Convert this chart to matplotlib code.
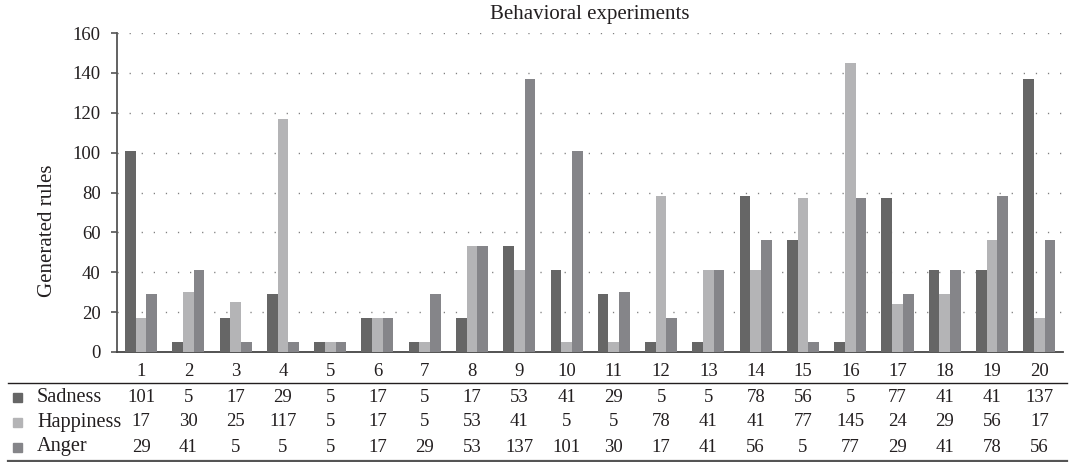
import matplotlib
matplotlib.use("Agg")
import matplotlib.pyplot as plt
import numpy as np
from matplotlib.transforms import blended_transform_factory
from matplotlib.lines import Line2D
from matplotlib.patches import Rectangle

plt.rcParams['font.family'] = ['Liberation Serif', 'DejaVu Serif']

categories = [str(i) for i in range(1, 21)]
series_names = ["Sadness", "Happiness", "Anger"]
sadness = [101, 5, 17, 29, 5, 17, 5, 17, 53, 41, 29, 5, 5, 78, 56, 5, 77, 41, 41, 137]
happiness = [17, 30, 25, 117, 5, 17, 5, 53, 41, 5, 5, 78, 41, 41, 77, 145, 24, 29, 56, 17]
anger = [29, 41, 5, 5, 5, 17, 29, 53, 137, 101, 30, 17, 41, 56, 5, 77, 29, 41, 78, 56]
colors = ["#666666", "#b4b4b6", "#858589"]
yticks = [0, 20, 40, 60, 80, 100, 120, 140, 160]

W, H = 1076, 462
fig = plt.figure(figsize=(W / 100, H / 100), dpi=100)
ax = fig.add_axes([117.4 / W, 1 - 352 / H, (1063 - 117.4) / W, (352 - 33) / H])

x = np.arange(1, len(categories) + 1)
bw = 0.226
data = [sadness, happiness, anger]
for i, (vals, c) in enumerate(zip(data, colors)):
    ax.bar(x + (i - 1) * bw, vals, width=bw, color=c, linewidth=0, zorder=3)

ax.set_xlim(0.5, len(categories) + 0.5)
ax.set_ylim(0, 160)
ax.set_yticks(yticks)
ax.set_xticks(x)
ax.set_xticklabels(categories)
ax.tick_params(axis='x', length=0, pad=8, labelsize=13.5, colors='#231f20')
ax.tick_params(axis='y', length=4, width=1.2, pad=8, labelsize=13.5, colors='#231f20')
ax.tick_params(axis='y', color='#555555')

for yt in yticks[1:]:
    ax.axhline(yt, color='#808080', linewidth=1.0, linestyle=(0, (0.9, 7.8)), zorder=1)

for s in ['top', 'right']:
    ax.spines[s].set_visible(False)
ax.spines['left'].set_color('#555555')
ax.spines['left'].set_linewidth(1.3)
ax.spines['bottom'].set_color('#444444')
ax.spines['bottom'].set_linewidth(1.3)

ax.set_title("Behavioral experiments", fontsize=15, color='#231f20', pad=10)
ax.set_ylabel("Generated rules", fontsize=15, color='#231f20')
ax.yaxis.set_label_coords(48 / W, 0.5, transform=fig.transFigure)
ax.yaxis.label.set_va('center')

# data table below
trans = blended_transform_factory(ax.transData, fig.transFigure)
row_y = [397, 422, 447]
for r, (name, vals, c) in enumerate(zip(series_names, data, colors)):
    yf = 1 - row_y[r] / H
    fig.patches.append(Rectangle((13 / W, yf - 4.5 / H), 9 / W, 9 / H,
                                 transform=fig.transFigure, color=c, figure=fig))
    fig.text(37 / W, yf, name, ha='left', va='center', fontsize=14.6, color='#231f20')
    for xi, v in zip(x, vals):
        fig.text(xi, yf, str(v), transform=trans, ha='center', va='center',
                 fontsize=13.5, color='#231f20')

fig.add_artist(Line2D([8 / W, 1067 / W], [1 - 382.5 / H, 1 - 382.5 / H],
                      transform=fig.transFigure, color='#231f20', linewidth=1.0))
fig.add_artist(Line2D([8 / W, 1067 / W], [1 - 460.5 / H, 1 - 460.5 / H],
                      transform=fig.transFigure, color='#555555', linewidth=1.6))

fig.savefig("out.png", dpi=100)
